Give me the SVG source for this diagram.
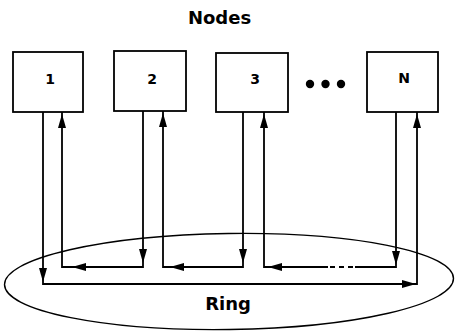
<svg xmlns="http://www.w3.org/2000/svg" width="455" height="331" viewBox="0 0 455 331">
  <style>
    .box { fill: #fff; stroke: #000; stroke-width: 1.8; }
    .lbl { font-family: "DejaVu Sans", "Liberation Sans", sans-serif; font-weight: bold; font-size: 14px; fill: #000; text-anchor: middle; }
    .title { font-family: "DejaVu Sans", "Liberation Sans", sans-serif; font-weight: bold; font-size: 18px; fill: #000; text-anchor: middle; }
    .wire { fill: none; stroke: #000; stroke-width: 1.8; }
    .ring { fill: none; stroke: #000; stroke-width: 1.4; }
  </style>
  <defs>
    <!-- filled arrowhead, tip at the origin, pointing along +x -->
    <polygon id="head" points="0,0 -14,-4 -14,4" fill="#000"/>
  </defs>

  <rect width="455" height="331" fill="#fff"/>

  <text class="title" x="219.5" y="24">Nodes</text>

  <!-- ring -->
  <g id="ring">
    <ellipse class="ring" cx="229" cy="281.5" rx="224.5" ry="48" transform="rotate(-0.8 229 281.5)"/>
    <text class="title" x="228" y="310" font-size="17">Ring</text>
  </g>

  <!-- nodes -->
  <g id="node-1">
    <rect class="box" x="13" y="52" width="70" height="60"/>
    <text class="lbl" x="50" y="84">1</text>
  </g>
  <g id="node-2">
    <rect class="box" x="114" y="51" width="72" height="60"/>
    <text class="lbl" x="152" y="84">2</text>
  </g>
  <g id="node-3">
    <rect class="box" x="216" y="53" width="72" height="59"/>
    <text class="lbl" x="255" y="84">3</text>
  </g>
  <g id="ellipsis">
    <circle cx="310" cy="84" r="4.2"/>
    <circle cx="325.5" cy="84" r="4.2"/>
    <circle cx="341" cy="84" r="4.2"/>
  </g>
  <g id="node-N">
    <rect class="box" x="367" y="52" width="71" height="60"/>
    <text class="lbl" x="404" y="83">N</text>
  </g>

  <!-- connectors -->
  <g id="connectors">
    <!-- node 1 to node N along the outer path -->
    <path class="wire" d="M43,112 V284 H417 V112"/>
    <use href="#head" transform="translate(43,282) rotate(90)"/>
    <use href="#head" transform="translate(416,284)"/>
    <use href="#head" transform="translate(417,114) rotate(-90)"/>

    <!-- node N to node 3 (broken line marks the omitted nodes) -->
    <path class="wire" d="M396,112 V267 H355"/>
    <path class="wire" d="M330,267 H354" stroke-dasharray="5,4"/>
    <path class="wire" d="M328,267 H264 V112"/>
    <use href="#head" transform="translate(396,265) rotate(90)"/>
    <use href="#head" transform="translate(268,267) rotate(180)"/>
    <use href="#head" transform="translate(264,114) rotate(-90)"/>

    <!-- node 3 to node 2 -->
    <path class="wire" d="M243,112 V267 H163 V111"/>
    <use href="#head" transform="translate(243,263) rotate(90)"/>
    <use href="#head" transform="translate(170,267) rotate(180)"/>
    <use href="#head" transform="translate(163,113) rotate(-90)"/>

    <!-- node 2 to node 1 -->
    <path class="wire" d="M143,111 V267 H62 V112"/>
    <use href="#head" transform="translate(143,263) rotate(90)"/>
    <use href="#head" transform="translate(72,267) rotate(180)"/>
    <use href="#head" transform="translate(62,114) rotate(-90)"/>
  </g>
</svg>
